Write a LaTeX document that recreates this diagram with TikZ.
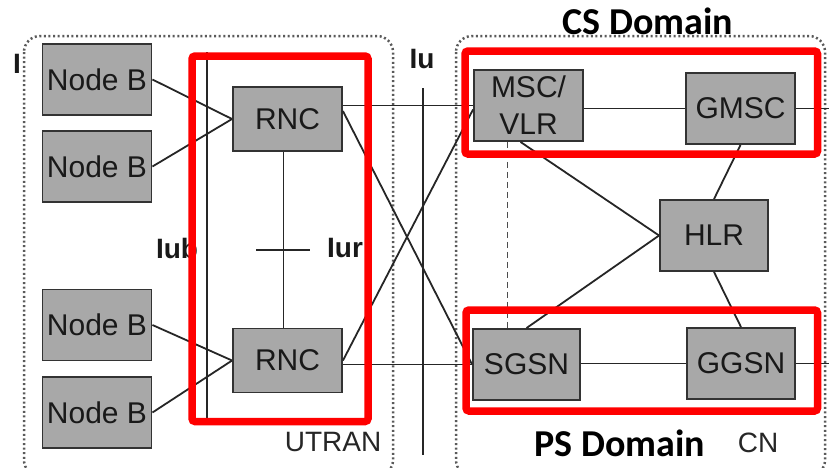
\documentclass[tikz,border=0pt]{standalone}
\usepackage{fontspec}
\setmainfont{Liberation Sans}
\newfontfamily\calfont{Carlito}
\definecolor{boxfill}{HTML}{A8A8A8}
\definecolor{boxedge}{HTML}{333333}
\definecolor{hilite}{HTML}{FF0000}
\definecolor{dotgray}{HTML}{5A5A5A}
\begin{document}
\begin{tikzpicture}[x=1pt,y=-1pt,
  elem/.style={draw=boxedge, line width=1.9pt, fill=boxfill, inner sep=0pt,
    minimum width=109pt, minimum height=71pt, text=black!90,
    font=\fontsize{30}{37}\selectfont, align=center},
  link/.style={draw=black!85, line width=1.8pt},
  area/.style={draw=dotgray, line width=2.5pt, dash pattern=on 2pt off 2.6pt, rounded corners=16pt},
  redframe/.style={draw=hilite, line width=7.5pt, rounded corners=3pt},
  iface/.style={font=\bfseries\fontsize{28}{32}\selectfont, text=black!90, inner sep=0pt},
  caption/.style={font=\fontsize{28}{32}\selectfont, text=black!85, inner sep=0pt},
  domlabel/.style={font=\calfont\bfseries\fontsize{38}{42}\selectfont, inner sep=0pt}
]
\useasboundingbox (0,0) rectangle (829,467);
\begin{scope}
\clip (0,0) rectangle (829,467);

% dotted area outlines
\draw[area] (24,36) rectangle (393,476);
\draw[area] (456,36) rectangle (825,476);

% network elements
\node[elem] (nb1) at (97,79.5) {Node B};
\node[elem] (nb2) at (97,166.5) {Node B};
\node[elem] (nb3) at (97,325) {Node B};
\node[elem] (nb4) at (97,412.5) {Node B};
\node[elem, minimum height=64pt] (rnc1) at (287.5,119) {RNC};
\node[elem, minimum height=64pt] (rnc2) at (287.5,360.5) {RNC};
\node[elem] (msc) at (528.5,105.5) {MSC/\\VLR};
\node[elem] (gmsc) at (740.5,108.5) {GMSC};
\node[elem, minimum width=108pt] (hlr) at (714,235.5) {HLR};
\node[elem, minimum width=107pt] (sgsn) at (526.5,364.5) {SGSN};
\node[elem, minimum width=108pt] (ggsn) at (741,363.5) {GGSN};

% free ends of the lines
\coordinate (iubtop) at (207,52);
\coordinate (iubbot) at (207,418);
\coordinate (iutop) at (423,88);
\coordinate (iubot) at (423,455);
\coordinate (iurl) at (256,250);
\coordinate (iurr) at (310,250);
\coordinate (csout) at (829,108.5);
\coordinate (psout) at (829,363.5);
\coordinate (dtop) at ([xshift=-21pt]msc.south);

% Iub
\draw[link] (nb1.east) -- (rnc1.west);
\draw[link] (nb2.east) -- (rnc1.west);
\draw[link] (nb3.east) -- (rnc2.west);
\draw[link] (nb4.east) -- (rnc2.west);
\draw[link] (iubtop) -- (iubbot);
% Iur
\draw[link] ([xshift=-4pt]rnc1.south) -- ([xshift=-4pt]rnc2.north);
\draw[link] (iurl) -- (iurr);
% Iu
\draw[link] (iutop) -- (iubot);
\draw[link] (msc.west -| rnc1.east) -- (msc.west);
\draw[link] ([yshift=-25pt]rnc1.north east) -- (sgsn.west);
\draw[link] (rnc2.east) -- ([yshift=-4pt]msc.west);
\draw[link] (sgsn.west -| rnc2.east) -- (sgsn.west);
% core network
\draw[link] (gmsc.west -| msc.east) -- (gmsc.west);
\draw[link] (gmsc.east) -- (csout);
\draw[link] (ggsn.west -| sgsn.east) -- (ggsn.west);
\draw[link] (ggsn.east) -- (psout);
\draw[link] ([xshift=-8pt]msc.south) -- (hlr.west);
\draw[link] (sgsn.north) -- (hlr.west);
\draw[link] (gmsc.south) -- (hlr.north);
\draw[link] (hlr.south) -- (ggsn.north);
\draw[link, draw=black!70, dash pattern=on 6pt off 4pt] (dtop) -- (dtop |- sgsn.north);

% interface and area labels
\node[iface] (lbiub) at (177,248) {Iub};
\node[iface] (lbiur) at (345,248) {Iur};
\node[iface] (lbiu) at (422,59) {Iu};
\node[iface] (lbcut) at (17,64) {I};
\node[caption] (lbutran) at (333,442) {UTRAN};
\node[caption] (lbcn) at (758,443) {CN};

% domain highlights
\draw[redframe] (192,56) rectangle (368,421.5);
\draw[redframe] (465,51) rectangle (817.5,154);
\draw[redframe] (466,310) rectangle (817.5,411);
\node[domlabel] (lbcs) at (648,21) {CS Domain};
\node[domlabel] (lbps) at (620,443) {PS Domain};
\end{scope}
\end{tikzpicture}
\end{document}
